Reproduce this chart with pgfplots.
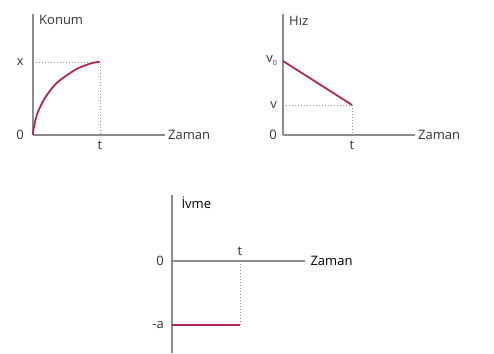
\documentclass[border=0pt]{standalone}
\usepackage{pgfplots}
\pgfplotsset{compat=1.18}
\usepackage{fontspec}
\setmainfont{Open Sans}
\definecolor{curve}{HTML}{B3264F}
\definecolor{axgray}{HTML}{8C8C8C}
\definecolor{txt}{HTML}{353535}
\pgfplotsset{
  myaxis/.style={
    x=1pt, y=1pt,
    major tick length=0pt,
    tick style={draw=none},
    font=\fontsize{13}{15}\selectfont,
    every tick label/.append style={text=txt, inner sep=0pt},
    label style={text=txt, inner sep=0pt},
    clip=false,
    /pgf/number format/assume math mode=true,
  },
  plainlines/.style={axis line style={-, axgray, line width=1.1pt}},
  dots/.style={axgray, dash pattern=on 1pt off 2pt, line width=0.9pt},
  redline/.style={curve, line width=1.8pt},
}
\begin{document}
\begin{tikzpicture}
\useasboundingbox[fill=white] (0,0) rectangle (494pt,353pt);
% Konum
\begin{axis}[myaxis, axis lines=left, plainlines, at={(33pt,218pt)}, anchor=south west,
  xmin=0, xmax=132, ymin=0, ymax=121,
  xtick={67}, xticklabels={t}, ytick={0,73}, yticklabels={0,x},
  xlabel={Zaman}, ylabel={Konum},
  xlabel style={at={(rel axis cs:1,0)}, anchor=west, xshift=3pt},
  ylabel style={rotate=-90, at={(rel axis cs:0,1)}, anchor=west, xshift=6pt, yshift=-6pt},
  yticklabel style={anchor=east, xshift=-9pt},
  xticklabel style={anchor=north, yshift=-6pt}]
\addplot[dots] coordinates {(0,73) (67,73) (67,0)};
\addplot[redline, smooth] coordinates {(0,0) (0.4,5) (1.7,11.7) (3,17) (5,23.3) (11.7,36.7) (21.7,50) (31.7,58.3) (45,66.7) (58.3,71.7) (66.7,73.3)};
\end{axis}
% Hiz
\begin{axis}[myaxis, axis lines=left, plainlines, at={(283pt,218pt)}, anchor=south west,
  xmin=0, xmax=132, ymin=0, ymax=121,
  xtick={69}, xticklabels={t}, ytick={0,30,74}, yticklabels={0,v,{v\raisebox{-3pt}{\fontsize{7}{8}\selectfont 0}}},
  xlabel={Zaman}, ylabel={Hız},
  xlabel style={at={(rel axis cs:1,0)}, anchor=west, xshift=3pt},
  ylabel style={rotate=-90, at={(rel axis cs:0,1)}, anchor=west, xshift=6pt, yshift=-7pt},
  yticklabel style={anchor=east, xshift=-6pt},
  xticklabel style={anchor=north, yshift=-6pt}]
\addplot[dots] coordinates {(0,30) (69,30) (69,0)};
\addplot[redline] coordinates {(0,74) (69,30)};
\end{axis}
% Ivme
\begin{axis}[myaxis, axis lines=middle, plainlines, at={(172pt,0pt)}, anchor=south west,
  hide obscured y ticks=false, hide obscured x ticks=false,
  xmin=0, xmax=133, ymin=-92, ymax=66,
  xtick={68}, xticklabels={t}, ytick={-64,0}, yticklabels={-a,0},
  xlabel={Zaman}, ylabel={İvme},
  xlabel style={at={(axis cs:133,0)}, anchor=west, xshift=2pt},
  ylabel style={at={(rel axis cs:0,1)}, anchor=west, xshift=6pt, yshift=-8pt},
  yticklabel style={anchor=east, xshift=-8pt},
  xticklabel style={anchor=south, yshift=5pt}]
\addplot[dots] coordinates {(68,0) (68,-64)};
\addplot[redline] coordinates {(0,-64) (68,-64)};
\end{axis}
\end{tikzpicture}
\end{document}
